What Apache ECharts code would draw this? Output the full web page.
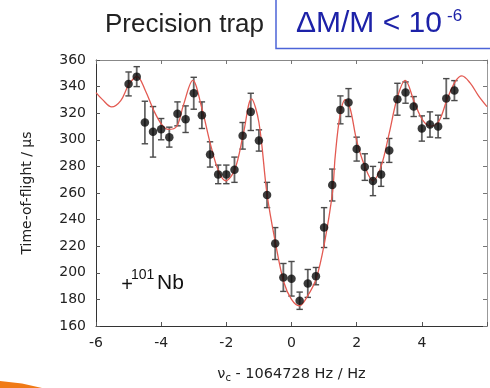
<!DOCTYPE html>
<html>
<head>
<meta charset="utf-8">
<script src="https://cdn.jsdelivr.net/npm/echarts@6/dist/echarts.min.js"></script>
<style>
html,body{margin:0;padding:0;background:#fff;}
#chart{width:490px;height:388px;}
</style>
</head>
<body>
<div id="chart"></div>
<script>
// Measured points: detuning (Hz), time-of-flight (µs), error (µs)
var freqs = [-5.00,-4.75,-4.50,-4.25,-4.00,-3.75,-3.50,-3.25,-3.00,-2.75,-2.50,-2.25,-2.00,-1.75,-1.50,-1.25,-1.00,-0.75,-0.50,-0.25,0.00,0.25,0.50,0.75,1.00,1.25,1.50,1.75,2.00,2.25,2.50,2.75,3.00,3.25,3.50,3.75,4.00,4.25,4.50,4.75,5.00];
var tof = [342,347.5,313,306,308,302,319.5,315.5,335,318.5,289,274,274,277.5,303,321,299.5,258.5,222,196.5,195.5,179,192,197.5,234,266,322.5,328,293,279.5,269,274,292,330.5,335.5,325,308.5,311.5,310,331,337];
var tofErr = [9,7.5,16,19,8,7.5,9,10,12,10,9.5,7,7,9.5,10,14,8,9.5,12,10.5,13,6.5,10.5,6.5,15,12,10.5,10.5,9,10,11,9,9,12,8,7.5,9.5,9.5,8.5,15,7.5];
// Fit curve
var fitX = [-6.00,-5.80,-5.52,-5.24,-4.99,-4.74,-4.48,-4.23,-3.98,-3.78,-3.52,-3.32,-3.03,-2.75,-2.49,-2.24,-2.02,-1.74,-1.48,-1.23,-1.00,-0.75,-0.49,-0.24,0.00,0.24,0.49,0.76,1.01,1.26,1.34,1.49,1.65,1.80,2.00,2.25,2.50,2.75,3.00,3.25,3.49,3.77,4.02,4.27,4.52,4.78,5.03,5.23,5.48,5.74,6.00];
var fitY = [335.5,330.2,324.7,329.5,341.6,347.6,336.7,322.2,311.4,307.8,310.2,325.9,344.7,323.5,296.9,276.5,269.2,277.7,304.2,330.7,313,259,222.2,193.3,180,175.2,182.4,195.7,222.2,260.8,287.3,318.6,330.2,323.5,299.4,280.1,269.2,280,305,332,344.7,328.3,315,310.2,313.9,330.7,343.9,348,342.8,333.1,325];
// Axis ticks
var yTicks = {min:160, max:360, step:20};
var xTicks = {min:-6, max:6, step:2};

var pts = freqs.map(function(f,i){return [f, tof[i], tofErr[i]];});
var fit = fitX.map(function(f,i){return [f, fitY[i]];});

var chart = echarts.init(document.getElementById('chart'));
var tickFont = 'DejaVu Sans';
var option = {
  backgroundColor:'#fff',
  animation:false,
  grid:{left:96, top:60, width:396, height:276},
  xAxis:[{
    type:'value', min:xTicks.min, max:xTicks.max, interval:xTicks.step, position:'bottom',
    axisLine:{show:true, onZero:false, lineStyle:{color:'#333', width:1}},
    axisTick:{show:true, inside:true, length:4, lineStyle:{color:'#555'}},
    splitLine:{show:false},
    axisLabel:{color:'#222', fontFamily:tickFont, fontSize:14, margin:10,
      formatter:function(v){return v===6?'':String(v);}},
    name:'{a|ν}{b|c}{a| - 1064728 Hz / Hz}', nameLocation:'middle', nameGap:39,
    nameTextStyle:{rich:{a:{fontFamily:tickFont, fontSize:14.5, color:'#222'}, b:{fontFamily:tickFont, fontSize:10, color:'#222', padding:[8,0,0,0]}}}
  },{
    type:'value', min:xTicks.min, max:xTicks.max, interval:xTicks.step, position:'top',
    axisLine:{show:true, onZero:false, lineStyle:{color:'#888', width:1}},
    axisTick:{show:true, inside:true, length:4, lineStyle:{color:'#777'}},
    axisLabel:{show:false}, splitLine:{show:false}
  }],
  yAxis:[{
    type:'value', min:yTicks.min, max:yTicks.max, interval:yTicks.step, position:'left',
    axisLine:{show:true, onZero:false, lineStyle:{color:'#333', width:1}},
    axisTick:{show:true, inside:true, length:4, lineStyle:{color:'#555'}},
    splitLine:{show:false},
    axisLabel:{color:'#222', fontFamily:tickFont, fontSize:14, margin:10},
    name:'Time-of-flight / µs', nameLocation:'middle', nameGap:62, nameRotate:90,
    nameTextStyle:{fontFamily:tickFont, fontSize:14, color:'#222'}
  },{
    type:'value', min:yTicks.min, max:yTicks.max, interval:yTicks.step, position:'right',
    axisLine:{show:true, onZero:false, lineStyle:{color:'#999', width:1}},
    axisTick:{show:true, inside:true, length:4, lineStyle:{color:'#777'}},
    axisLabel:{show:false}, splitLine:{show:false}
  }],
  series:[{
    type:'custom', xAxisIndex:0, yAxisIndex:0, data:pts, z:2,
    renderItem:function(params, api){
      var x = api.value(0), y = api.value(1), e = api.value(2);
      var t = api.coord([x, y+e]), b = api.coord([x, y-e]);
      var hw = 3.2, st = {stroke:'#4a4a4a', lineWidth:1.4};
      return {type:'group', children:[
        {type:'line', shape:{x1:t[0],y1:t[1],x2:b[0],y2:b[1]}, style:{stroke:'#666', lineWidth:1.8}},
        {type:'line', shape:{x1:t[0]-hw,y1:t[1],x2:t[0]+hw,y2:t[1]}, style:st},
        {type:'line', shape:{x1:b[0]-hw,y1:b[1],x2:b[0]+hw,y2:b[1]}, style:st}
      ]};
    }
  },{
    type:'line', data:fit, smooth:0.35, symbol:'none', z:3, clip:true,
    lineStyle:{color:'#e35a52', width:1.3}
  },{
    type:'scatter', data:pts.map(function(p){return [p[0],p[1]];}), symbol:'circle', symbolSize:8.5, z:4,
    itemStyle:{color:'#0a0a0a'}
  }],
  graphic:[
    {type:'text', x:105, y:25, style:{text:'Precision trap', fontFamily:'Liberation Sans', fontSize:26, fill:'#222', verticalAlign:'middle'}},
    {type:'rect', shape:{x:276, y:-5, width:230, height:53.5}, style:{fill:'#fff', stroke:'#4c64d8', lineWidth:1.5}, z:10},
    {type:'text', x:296, y:24, z:11, style:{text:'ΔM/M < 10', fontFamily:'Liberation Sans', fontSize:30, fill:'#1d22a8', verticalAlign:'middle'}},
    {type:'text', x:447, y:16, z:11, style:{text:'-6', fontFamily:'Liberation Sans', fontSize:17, fill:'#1d22a8', verticalAlign:'middle'}},
    {type:'text', x:127, y:285, style:{text:'+', fontFamily:'Liberation Sans', fontSize:20, fill:'#111', align:'center', verticalAlign:'middle'}},
    {type:'text', x:131, y:275, style:{text:'101', fontFamily:'Liberation Sans', fontSize:14, fill:'#111', verticalAlign:'middle'}},
    {type:'text', x:157, y:283, style:{text:'Nb', fontFamily:'Liberation Sans', fontSize:21, fill:'#111', verticalAlign:'middle'}},
    {type:'polygon', shape:{points:[[0,381],[22,383.5],[42,388],[0,388]]}, style:{fill:'#f07a16'}}
  ]
};
chart.setOption(option);
</script>
</body>
</html>
